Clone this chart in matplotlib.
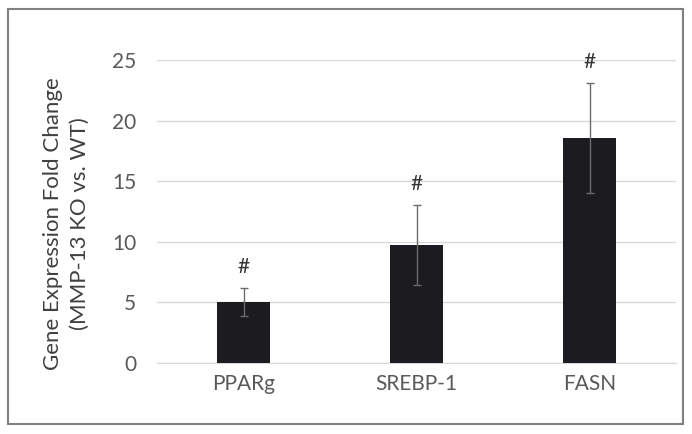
import matplotlib
matplotlib.use("Agg")
import matplotlib.pyplot as plt
from matplotlib.patches import Rectangle
import numpy as np

plt.rcParams['font.family'] = ['Lato', 'DejaVu Sans']

# values
genes = ['PPARg', 'SREBP-1', 'FASN']
fold_change = [5.05, 9.7, 18.55]
fold_err = [1.15, 3.3, 4.55]
marks = ['#', '#', '#']
yticks = [0, 5, 10, 15, 20, 25]

txt_col = '#595959'
grid_col = '#d9d9d9'

fig = plt.figure(figsize=(6.92, 4.34), dpi=100)
ax = fig.add_axes([157/692, 71/434, 519/692, 303/434])

x = np.arange(len(genes))
ax.bar(x, fold_change, width=0.31, color='#1c1b1f', zorder=3)
ax.errorbar(x, fold_change, yerr=fold_err, fmt='none', ecolor='#6b6b6b',
            elinewidth=1, capsize=3, capthick=1, zorder=4)

for xi, v, e, m in zip(x, fold_change, fold_err, marks):
    ax.annotate(m, (xi, v + e), xytext=(0, 8), textcoords='offset points',
                ha='center', va='bottom', fontsize=15, color='#333333')

ax.set_xlim(-0.5, len(genes) - 0.5)
ax.set_ylim(0, 25)
ax.set_yticks(yticks)
ax.set_xticks(x)
ax.set_xticklabels(genes)
ax.yaxis.grid(True, color=grid_col, linewidth=1, zorder=0)
ax.set_axisbelow(True)
for s in ['top', 'right', 'left']:
    ax.spines[s].set_visible(False)
ax.spines['bottom'].set_color(grid_col)
ax.tick_params(axis='both', length=0, labelsize=15, colors=txt_col, pad=8)
ax.tick_params(axis='y', pad=15)
ax.set_ylabel('Gene Expression Fold Change\n(MMP-13 KO vs. WT)', fontsize=16,
              color='#404040', linespacing=1.4, va='center')
ax.yaxis.set_label_coords(-0.175, 0.46)

# border round the whole figure
fig.patches.append(Rectangle((8/692, 10/434), 675/692, 415/434,
                             transform=fig.transFigure, fill=False,
                             edgecolor='#808080', linewidth=1.5))

fig.savefig('out.png', dpi=100)
